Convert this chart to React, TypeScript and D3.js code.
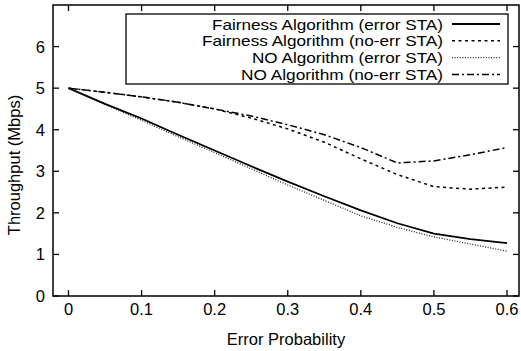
import React from "react";
import * as d3 from "d3";

const errorProb = [0, 0.05, 0.1, 0.15, 0.2, 0.25, 0.3, 0.35, 0.4, 0.45, 0.5, 0.55, 0.6];
const fairErr = [5.0, 4.62, 4.27, 3.88, 3.5, 3.12, 2.75, 2.4, 2.06, 1.75, 1.5, 1.37, 1.27];
const fairNoErr = [5.0, 4.9, 4.79, 4.66, 4.5, 4.28, 4.02, 3.7, 3.3, 2.92, 2.63, 2.57, 2.62];
const noErr = [5.0, 4.6, 4.23, 3.83, 3.45, 3.06, 2.67, 2.3, 1.93, 1.65, 1.42, 1.25, 1.08];
const noNoErr = [5.0, 4.9, 4.79, 4.66, 4.5, 4.33, 4.12, 3.88, 3.57, 3.2, 3.25, 3.4, 3.57];

const seriesNames = [
  "Fairness Algorithm (error STA)",
  "Fairness Algorithm (no-err STA)",
  "NO Algorithm (error STA)",
  "NO Algorithm (no-err STA)",
];
const legendWidths = [231, 241, 191, 202];
const xTicks = [0, 0.1, 0.2, 0.3, 0.4, 0.5, 0.6];
const yTicks = [0, 1, 2, 3, 4, 5, 6];

const W = 521;
const H = 351;
const L = 53, R = 519, T = 5, B = 296;
const FONT = "'Liberation Sans', Arial, Helvetica, sans-serif";

export default function App() {
  const x = d3.scaleLinear().domain([-0.0212, 0.6164]).range([L, R]);
  const y = d3.scaleLinear().domain([0, 7]).range([B, T]);
  const line = d3
    .line<[number, number]>()
    .x((d) => x(d[0]))
    .y((d) => y(d[1]));

  const allSeries = [fairErr, fairNoErr, noErr, noNoErr];
  const styles = [
    { dash: "", width: 1.8, color: "#000" },
    { dash: "3,3.5", width: 1.5, color: "#000" },
    { dash: "1,1.6", width: 1.3, color: "#222" },
    { dash: "7,3,2,3", width: 1.5, color: "#000" },
  ];

  const tickLen = 6;
  const rowH = 16.8;

  return (
    <svg width={W} height={H} style={{ position: "absolute", left: 0, top: 0, background: "#fff" }}>
      <rect x={0} y={0} width={W} height={H} fill="#fff" />
      {xTicks.map((t) => (
        <g key={"xt" + t}>
          <line x1={x(t)} x2={x(t)} y1={B} y2={B - tickLen} stroke="#000" strokeWidth={1.3} />
          <line x1={x(t)} x2={x(t)} y1={T} y2={T + tickLen} stroke="#000" strokeWidth={1.3} />
          <text x={x(t)} y={315} textAnchor="middle" fontFamily={FONT} fontSize={16.5} fill="#000">
            {t === 0 ? "0" : t.toFixed(1)}
          </text>
        </g>
      ))}
      {yTicks.map((t) => (
        <g key={"yt" + t}>
          <line x1={L} x2={L + tickLen} y1={y(t)} y2={y(t)} stroke="#000" strokeWidth={1.3} />
          <line x1={R} x2={R - tickLen} y1={y(t)} y2={y(t)} stroke="#000" strokeWidth={1.3} />
          <text x={45} y={y(t) + 6} textAnchor="end" fontFamily={FONT} fontSize={16.5} fill="#000">
            {t}
          </text>
        </g>
      ))}
      <rect x={L} y={T} width={R - L} height={B - T} fill="none" stroke="#000" strokeWidth={1.5} />
      {allSeries.map((s, i) => (
        <path
          key={"s" + i}
          d={line(errorProb.map((p, j) => [p, s[j]] as [number, number])) || ""}
          fill="none"
          stroke={styles[i].color}
          strokeWidth={styles[i].width}
          strokeDasharray={styles[i].dash}
        />
      ))}
      <rect x={126} y={14} width={382} height={70} fill="#fff" stroke="#000" strokeWidth={1.3} />
      {seriesNames.map((n, i) => (
        <g key={"lg" + i}>
          <text
            x={443 - legendWidths[i]}
            y={29.5 + i * rowH}
            textAnchor="start"
            fontFamily={FONT}
            fontSize={14.8}
            textLength={legendWidths[i]}
            lengthAdjust="spacingAndGlyphs"
            fill="#000"
          >
            {n}
          </text>
          <line
            x1={452}
            x2={500}
            y1={24 + i * rowH}
            y2={24 + i * rowH}
            stroke={styles[i].color}
            strokeWidth={styles[i].width}
            strokeDasharray={styles[i].dash}
          />
        </g>
      ))}
      <text x={286} y={345} textAnchor="middle" fontFamily={FONT} fontSize={16.5} fill="#000">
        Error Probability
      </text>
      <text
        transform={`translate(20,165) rotate(-90)`}
        textAnchor="middle"
        fontFamily={FONT}
        fontSize={16.5}
        fill="#000"
      >
        Throughput (Mbps)
      </text>
    </svg>
  );
}
